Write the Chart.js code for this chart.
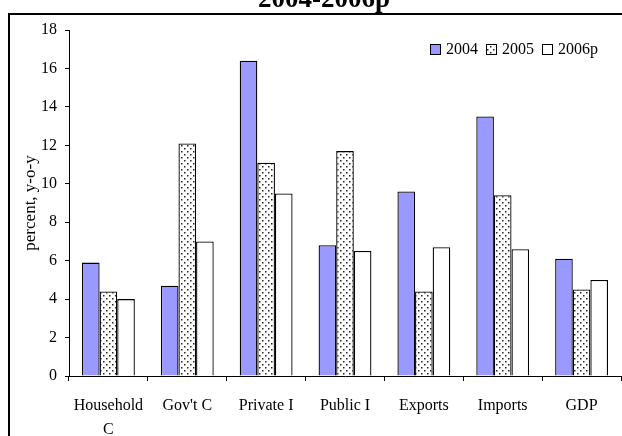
<!DOCTYPE html>
<html>
<head>
<meta charset="utf-8">
<script src="https://cdn.jsdelivr.net/npm/chart.js@4.4.0/dist/chart.umd.min.js"></script>
<style>
  html, body { margin: 0; padding: 0; background: #fff; }
  #wrap { position: relative; width: 622px; height: 436px; }
</style>
</head>
<body>
<div id="wrap"><canvas id="chart" width="622" height="436"></canvas></div>
<script>
/* data */
const categories = [["Household", "C"], "Gov't C", "Private I", "Public I", "Exports", "Imports", "GDP"];
const seriesNames = ["2004", "2005", "2006p"];
const v2004 = [5.9, 4.7, 16.4, 6.8, 9.6, 13.5, 6.1];
const v2005 = [4.4, 12.1, 11.1, 11.7, 4.4, 9.4, 4.5];
const v2006p = [4.0, 7.0, 9.5, 6.5, 6.7, 6.6, 5.0];
const yMin = 0, yMax = 18, yStep = 2;
const titleText = "2004-2006p";
const yTitle = "percent, y-o-y";

const SERIF = "'Liberation Serif', 'Times New Roman', serif";

/* dotted fill for 2005 */
function dotPattern() {
  const c = document.createElement("canvas");
  c.width = 6; c.height = 6;
  const g = c.getContext("2d");
  g.fillStyle = "#fff";
  g.fillRect(0, 0, 6, 6);
  g.fillStyle = "#222";
  g.fillRect(1, 1, 1.5, 1.5);
  g.fillRect(4, 4, 1.5, 1.5);
  return g.createPattern(c, "repeat");
}

/* frame, title and legend drawn on top */
const decor = {
  id: "decor",
  afterDraw(chart) {
    const ctx = chart.ctx;
    ctx.save();
    // outer frame
    ctx.strokeStyle = "#000";
    ctx.lineWidth = 2;
    ctx.strokeRect(9, 14, 640, 460);
    // title (cut off at the top)
    ctx.fillStyle = "#000";
    ctx.font = "bold 27px " + SERIF;
    ctx.textAlign = "center";
    ctx.textBaseline = "alphabetic";
    ctx.fillText(titleText, 324, 7);
    // legend
    ctx.font = "16px " + SERIF;
    ctx.textAlign = "left";
    ctx.textBaseline = "middle";
    let x = 430;
    const y = 49;
    chart.data.datasets.forEach(ds => {
      ctx.fillStyle = ds.backgroundColor;
      ctx.fillRect(x, y - 5, 10, 10);
      ctx.lineWidth = 1;
      ctx.strokeStyle = "#000";
      ctx.strokeRect(x + 0.5, y - 4.5, 10, 10);
      ctx.fillStyle = "#000";
      ctx.fillText(ds.label, x + 16, y + 1);
      x += 16 + ctx.measureText(ds.label).width + 8;
    });
    ctx.restore();
  }
};

const ctx = document.getElementById("chart");
new Chart(ctx, {
  type: "bar",
  data: {
    labels: categories,
    datasets: [
      { label: seriesNames[0], data: v2004, backgroundColor: "#9999ff" },
      { label: seriesNames[1], data: v2005, backgroundColor: dotPattern() },
      { label: seriesNames[2], data: v2006p, backgroundColor: "#ffffff" }
    ]
  },
  options: {
    responsive: false,
    animation: false,
    devicePixelRatio: 1,
    layout: { padding: { left: 10, top: 30, right: 1, bottom: 0 } },
    datasets: {
      bar: {
        borderColor: "#000",
        borderWidth: 1.3,
        categoryPercentage: 0.67,
        barPercentage: 1.0
      }
    },
    plugins: {
      legend: { display: false },
      title: { display: false },
      tooltip: { enabled: false }
    },
    scales: {
      x: {
        afterFit(scale) { scale.height = 60; },
        border: { display: true, color: "#000", width: 1 },
        grid: { display: true, drawOnChartArea: false, drawTicks: true, tickLength: 5, color: "#000", offset: true },
        ticks: {
          color: "#000",
          font: { family: SERIF, size: 16, lineHeight: 1.5 },
          padding: 13,
          maxRotation: 0,
          autoSkip: false
        }
      },
      y: {
        min: yMin,
        max: yMax,
        afterFit(scale) { scale.width = 59; },
        border: { display: true, color: "#000", width: 1 },
        grid: { display: true, drawOnChartArea: false, drawTicks: true, tickLength: 4, color: "#000" },
        ticks: {
          stepSize: yStep,
          color: "#000",
          font: { family: SERIF, size: 16 },
          padding: 8
        },
        title: {
          display: true,
          text: yTitle,
          color: "#000",
          font: { family: SERIF, size: 17 },
          padding: { top: 10, bottom: 0 }
        }
      }
    }
  },
  plugins: [decor]
});
</script>
</body>
</html>
